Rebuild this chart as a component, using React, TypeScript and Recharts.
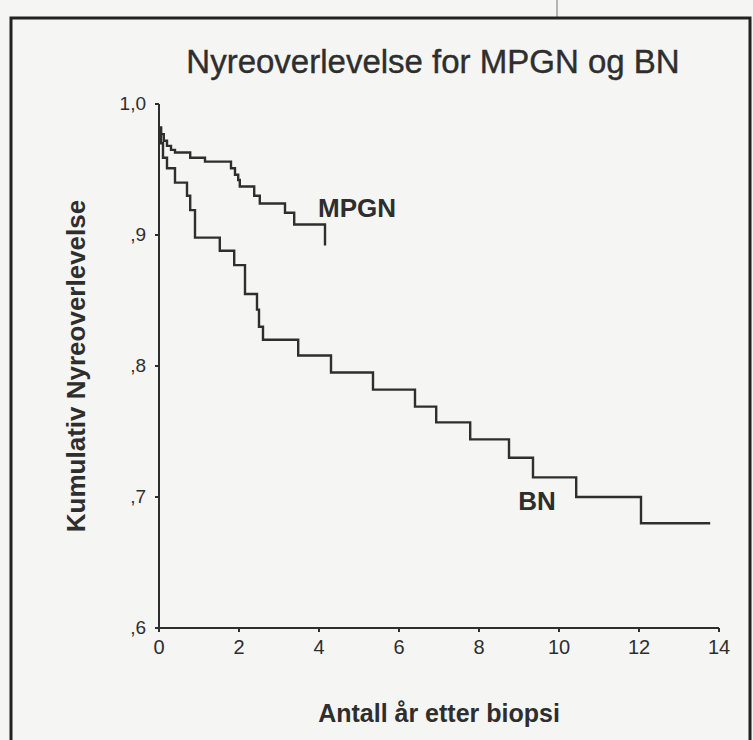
import React from "react";
import { LineChart, Line, XAxis, YAxis, ReferenceDot } from "recharts";

// Kaplan-Meier style step data
const mpgnYears = [0, 0.05, 0.12, 0.2, 0.3, 0.4, 0.78, 1.15, 1.8, 1.9, 1.98, 2.02, 2.38, 2.52, 3.15, 3.38, 4.15];
const mpgnSurvival = [0.982, 0.977, 0.972, 0.968, 0.965, 0.963, 0.959, 0.956, 0.951, 0.946, 0.942, 0.937, 0.93, 0.924, 0.917, 0.908, 0.892];

const bnYears = [0, 0.05, 0.1, 0.2, 0.4, 0.7, 0.78, 0.9, 1.52, 1.88, 2.15, 2.45, 2.5, 2.6, 3.48, 4.3, 5.35, 6.4, 6.93, 7.78, 8.75, 9.35, 10.43, 12.05, 13.78];
const bnSurvival = [0.982, 0.97, 0.959, 0.951, 0.94, 0.93, 0.919, 0.898, 0.888, 0.877, 0.855, 0.843, 0.83, 0.82, 0.808, 0.795, 0.782, 0.769, 0.757, 0.744, 0.73, 0.715, 0.7, 0.68, 0.68];

const xTicks = [0, 2, 4, 6, 8, 10, 12, 14];
const yTicks = [0.6, 0.7, 0.8, 0.9, 1.0];

const mpgnData = mpgnYears.map((t, i) => ({ t, s: mpgnSurvival[i] }));
const bnData = bnYears.map((t, i) => ({ t, s: bnSurvival[i] }));

const INK = "#2e2e2e";
const FONT = "'Liberation Sans', Arial, sans-serif";

const formatY = (v: number) => (v >= 1 ? "1,0" : "," + Math.round(v * 10));

const XTick = (props: any) => {
  const { x, y, payload } = props;
  return (
    <text x={x} y={y + 20} textAnchor="middle" fontSize={20} fill={INK} fontFamily={FONT}>
      {payload.value}
    </text>
  );
};

const YTick = (props: any) => {
  const { x, y, payload } = props;
  return (
    <text x={x} y={y + 6} textAnchor="end" fontSize={19} fill={INK} fontFamily={FONT}>
      {formatY(payload.value)}
    </text>
  );
};

export default function App() {
  return (
    <div style={{ position: "absolute", left: 0, top: 0, width: 753, height: 740, background: "#f5f5f3", overflow: "hidden", fontFamily: FONT }}>
      <svg width={753} height={740} style={{ position: "absolute", left: 0, top: 0 }}>
        <line x1={557} y1={0} x2={557} y2={18} stroke="#777" strokeWidth={1} />
        <rect x={11} y={18} width={739} height={740} fill="none" stroke="#222" strokeWidth={3} />
        <text x={433} y={73} textAnchor="middle" fontSize={33} fill={INK} fontFamily={FONT} stroke={INK} strokeWidth={0.4}>
          Nyreoverlevelse for MPGN og BN
        </text>
      </svg>
      <div style={{ position: "absolute", left: 0, top: 0 }}>
        <LineChart width={753} height={740} margin={{ top: 104, right: 34, bottom: 12, left: 9 }}>
          <XAxis
            type="number"
            dataKey="t"
            domain={[0, 14]}
            ticks={xTicks}
            allowDataOverflow
            height={100}
            tickSize={4}
            tickMargin={2}
            stroke={INK}
            strokeWidth={2}
            tick={<XTick />}
            label={{ value: "Antall år etter biopsi", position: "insideBottom", offset: 6, style: { fill: INK, fontSize: 25, fontWeight: "bold", fontFamily: FONT } }}
          />
          <YAxis
            type="number"
            domain={[0.6, 1.0]}
            ticks={yTicks}
            allowDataOverflow
            width={150}
            tickSize={4}
            tickMargin={9}
            stroke={INK}
            strokeWidth={2}
            tick={<YTick />}
            label={{ value: "Kumulativ Nyreoverlevelse", angle: -90, position: "insideLeft", offset: 67, style: { textAnchor: "middle", fill: INK, fontSize: 26, fontWeight: "bold", fontFamily: FONT } }}
          />
          <Line data={mpgnData} dataKey="s" type="stepAfter" stroke={INK} strokeWidth={2.4} dot={false} isAnimationActive={false} />
          <Line data={bnData} dataKey="s" type="stepAfter" stroke={INK} strokeWidth={2.4} dot={false} isAnimationActive={false} />
          <ReferenceDot x={4.95} y={0.921} r={0} fill="none" stroke="none" label={{ value: "MPGN", position: "center", style: { fill: INK, fontSize: 26, fontWeight: "bold", fontFamily: FONT } }} />
          <ReferenceDot x={9.45} y={0.697} r={0} fill="none" stroke="none" label={{ value: "BN", position: "center", style: { fill: INK, fontSize: 26, fontWeight: "bold", fontFamily: FONT } }} />
        </LineChart>
      </div>
    </div>
  );
}
